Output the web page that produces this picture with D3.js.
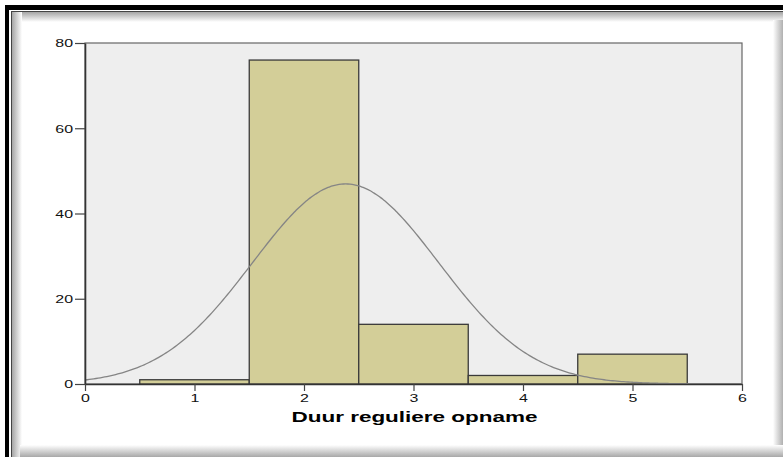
<!DOCTYPE html>
<html>
<head>
<meta charset="utf-8">
<script src="https://cdn.jsdelivr.net/npm/d3@7"></script>
<style>
html,body{margin:0;padding:0;background:#fff;}
svg{display:block;}
</style>
</head>
<body>
<svg id="chart" width="783" height="457"></svg>
<script>
// ---- data ----
const binStarts = [0.5, 1.5, 2.5, 3.5, 4.5];
const binEnds   = [1.5, 2.5, 3.5, 4.5, 5.5];
const counts    = [1, 76, 14, 2, 7];
const xTicks = [0, 1, 2, 3, 4, 5, 6];
const yTicks = [0, 20, 40, 60, 80];
const xLabel = "Duur reguliere opname";
// normal curve parameters (SPSS fitted normal): mean, sd, N
const normalMean = 2.38;
const normalSd = 0.85;
const normalN = 100;
const binWidth = 1;

const svg = d3.select("#chart");
const W = 783, H = 457;

// ---- frame with shadow ----
const defs = svg.append("defs");
function grad(id, x1, y1, x2, y2, c1, c2) {
  const g = defs.append("linearGradient").attr("id", id)
    .attr("x1", x1).attr("y1", y1).attr("x2", x2).attr("y2", y2);
  g.append("stop").attr("offset", "0%").attr("stop-color", c1);
  g.append("stop").attr("offset", "100%").attr("stop-color", c2);
}
grad("gTop", 0, 0, 0, 1, "#a5a5a5", "#ffffff");
grad("gLeft", 0, 0, 1, 0, "#a5a5a5", "#ffffff");
grad("gRight", 0, 0, 1, 0, "#ffffff", "#b0b0b0");
grad("gBottom", 0, 0, 0, 1, "#ffffff", "#a8a8a8");

svg.append("rect").attr("x", 0).attr("y", 0).attr("width", W).attr("height", H).attr("fill", "#fff");
svg.append("rect").attr("x", 5).attr("y", 5).attr("width", W - 5).attr("height", 5).attr("fill", "#000");
svg.append("rect").attr("x", 5).attr("y", 5).attr("width", 4).attr("height", H - 5).attr("fill", "#000");
svg.append("rect").attr("x", 11).attr("y", 11).attr("width", W - 11).attr("height", 1.2).attr("fill", "#444");
svg.append("rect").attr("x", 11).attr("y", 11).attr("width", 1.2).attr("height", H - 11).attr("fill", "#444");
svg.append("rect").attr("x", 12).attr("y", 12).attr("width", W - 12).attr("height", 10).attr("fill", "url(#gTop)");
svg.append("rect").attr("x", 12).attr("y", 12).attr("width", 10).attr("height", H - 12).attr("fill", "url(#gLeft)");
svg.append("rect").attr("x", W - 10).attr("y", 20).attr("width", 10).attr("height", H - 20).attr("fill", "url(#gRight)");
svg.append("rect").attr("x", 20).attr("y", H - 12).attr("width", W - 20).attr("height", 12).attr("fill", "url(#gBottom)");

// ---- scales ----
const x = d3.scaleLinear().domain([0, 6]).range([85, 742]);
const y = d3.scaleLinear().domain([0, 80]).range([384, 43]);

// plot background
svg.append("rect")
  .attr("x", x(0)).attr("y", y(80))
  .attr("width", x(6) - x(0)).attr("height", y(0) - y(80))
  .attr("fill", "#eeeeee").attr("stroke", "#666").attr("stroke-width", 1.2);

// bars
const bars = counts.map((c, i) => ({ x0: binStarts[i], x1: binEnds[i], c }));
svg.append("g").selectAll("rect").data(bars).join("rect")
  .attr("x", d => x(d.x0))
  .attr("y", d => y(d.c))
  .attr("width", d => x(d.x1) - x(d.x0))
  .attr("height", d => y(0) - y(d.c))
  .attr("fill", "#d3ce98")
  .attr("stroke", "#3a3a3a")
  .attr("stroke-width", 1.3);

// normal curve
const pts = d3.range(0, 6.001, 0.02).map(v => [v,
  normalN * binWidth / (normalSd * Math.sqrt(2 * Math.PI)) *
  Math.exp(-((v - normalMean) ** 2) / (2 * normalSd * normalSd))]);
svg.append("path")
  .datum(pts)
  .attr("d", d3.line().x(d => x(d[0])).y(d => y(d[1])).curve(d3.curveBasis))
  .attr("fill", "none").attr("stroke", "#858585").attr("stroke-width", 1.3);

const stretch = 1.45;
const fmt = d3.format("d");
// y axis
const yAxis = svg.append("g").attr("transform", `translate(${x(0)},0)`)
  .call(d3.axisLeft(y).tickValues(yTicks).tickFormat(fmt).tickSize(10).tickSizeOuter(0));
yAxis.select(".domain").attr("stroke", "#333").attr("stroke-width", 1.6);
yAxis.selectAll(".tick line").attr("stroke", "#444").attr("stroke-width", 1.2);
yAxis.selectAll(".tick text")
  .attr("x", -12 / stretch).attr("dy", "0.36em")
  .attr("transform", `scale(${stretch},1)`)
  .attr("font-family", "Liberation Sans, Arial, sans-serif")
  .attr("font-size", 11).attr("fill", "#111");

// x axis
const xAxis = svg.append("g").attr("transform", `translate(0,${y(0)})`)
  .call(d3.axisBottom(x).tickValues(xTicks).tickFormat(fmt).tickSize(7).tickSizeOuter(0));
xAxis.select(".domain").attr("stroke", "#333").attr("stroke-width", 1.6);
xAxis.selectAll(".tick line").attr("stroke", "#444").attr("stroke-width", 1.2);
xAxis.selectAll(".tick text")
  .attr("y", 10).attr("dy", "0.71em")
  .attr("transform", `scale(${stretch},1)`)
  .attr("font-family", "Liberation Sans, Arial, sans-serif")
  .attr("font-size", 11).attr("fill", "#111");

// x label
svg.append("text")
  .attr("transform", `translate(${(x(0) + x(6)) / 2 + 1},422) scale(1.5,1)`)
  .attr("text-anchor", "middle")
  .attr("font-family", "Liberation Sans, Arial, sans-serif")
  .attr("font-weight", "bold").attr("font-size", 15).attr("fill", "#000")
  .text(xLabel);
</script>
</body>
</html>
